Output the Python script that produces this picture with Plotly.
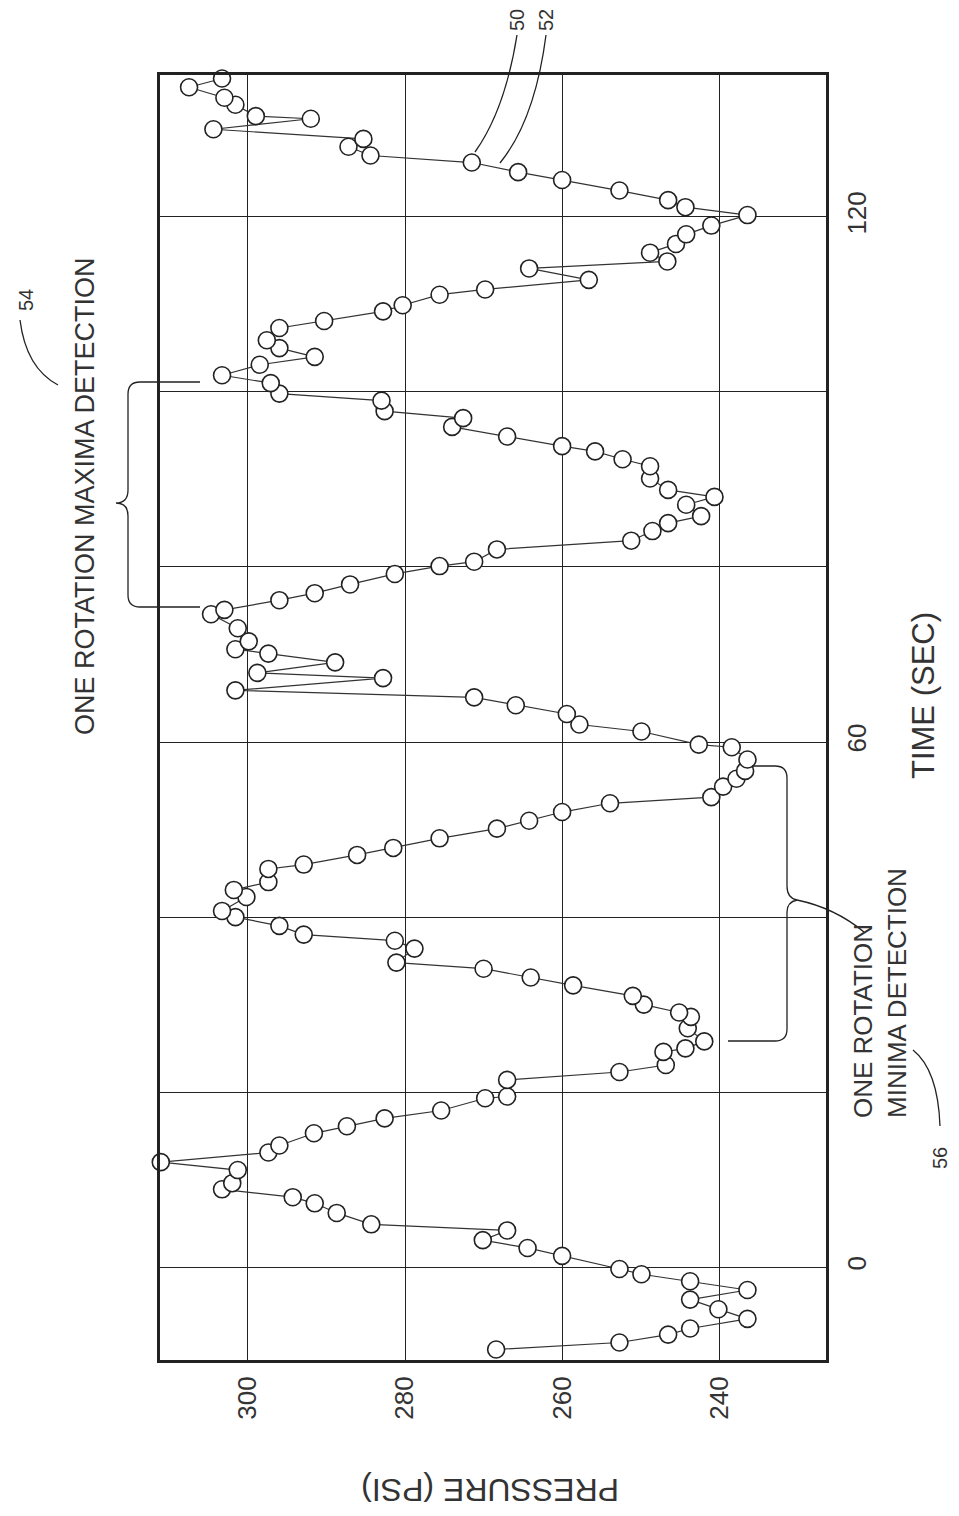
import plotly.graph_objects as go

# ---------------- data (time in sec, pressure in psi) ----------------
time_sec = [
    -9.4, -8.6, -7.7, -7.0, -5.9, -4.8, -3.7, -2.6, -1.6, -0.8, -0.2,
    1.3, 2.2, 3.1, 4.2, 4.9, 6.2, 7.3, 8.0, 8.9, 9.6, 11.1, 12.0, 13.1, 13.9,
    15.3, 16.1, 17.0, 17.9, 19.3, 19.5, 21.4, 22.3, 23.1, 24.6, 25.0, 25.8,
    27.3, 28.6, 29.1, 30.0, 31.0, 32.2, 33.1, 34.1, 34.8, 36.4, 37.3, 38.0,
    39.0, 40.0, 40.7, 42.3, 43.1, 44.0, 45.5, 46.0, 47.1, 47.9, 49.0, 50.1,
    51.0, 52.0, 53.0, 53.7, 54.9, 55.8, 56.7, 58.0, 59.4, 59.7, 61.2, 62.0,
    63.2, 64.2, 65.1, 65.9, 67.3, 67.9, 69.1, 70.1, 70.6, 71.5, 73.0, 74.6,
    75.1, 76.2, 77.0, 78.0, 79.2, 80.1, 80.6, 82.0, 83.0, 84.1, 85.0, 85.8,
    87.1, 88.0, 88.8, 90.1, 91.5, 92.3, 93.2, 93.8, 94.9, 96.0, 97.0, 97.8,
    99.0, 99.8, 101.0, 101.9, 103.1, 104.0, 105.0, 105.9, 107.3, 108.1,
    109.2, 109.9, 111.1, 111.7, 112.8, 114.1, 114.9, 115.9, 116.9, 118.0,
    119.0, 120.2, 121.1, 121.9, 123.0, 124.2, 125.1, 126.2, 127.0, 128.0,
    128.9, 130.0, 131.2, 131.5, 132.8, 133.6, 134.8, 135.8,
]
pressure_psi = [
    268.4, 252.7, 246.5, 243.7, 236.4, 240.1, 243.7, 236.4, 243.7, 249.9, 252.7,
    260.0, 264.4, 270.1, 267.0, 284.3, 288.7, 291.5, 294.3, 303.3, 302.0, 301.3,
    311.1, 297.4, 296.0, 291.6, 287.4, 282.6, 275.4, 269.8, 267.0, 267.0, 252.7,
    246.8, 247.1, 244.3, 241.9, 244.0, 243.6, 245.1, 249.6, 251.0, 258.6, 264.0,
    270.0, 281.1, 278.8, 281.3, 292.9, 296.0, 301.6, 303.3, 300.2, 301.8, 297.4,
    297.4, 292.9, 286.1, 281.5, 275.6, 268.3, 264.2, 260.0, 253.9, 241.0, 239.5,
    237.8, 236.7, 236.4, 238.4, 242.6, 249.9, 257.8, 259.4, 265.9, 271.2, 301.6,
    282.8, 298.8, 288.9, 297.4, 301.6, 299.9, 301.3, 304.7, 303.0, 296.0, 291.5,
    287.0, 281.3, 275.6, 271.2, 268.3, 251.2, 248.5, 246.5, 242.3, 244.2, 240.6,
    246.5, 248.8, 248.8, 252.3, 255.8, 260.0, 267.0, 274.0, 272.6, 282.6, 283.0,
    296.0, 297.1, 303.3, 298.5, 291.5, 296.0, 297.6, 296.0, 290.3, 282.8, 280.3,
    275.6, 269.8, 256.6, 264.2, 246.6, 248.8, 245.5, 244.2, 241.0, 236.4, 244.3,
    246.5, 252.7, 260.0, 265.6, 271.5, 284.4, 287.2, 285.3, 304.4, 292.0, 299.0,
    301.6, 303.0, 307.5, 303.3,
]

pressure_ticks = [240, 260, 280, 300]
time_ticks = [0, 20, 40, 60, 80, 100, 120]
time_tick_text = ["0", "", "", "60", "", "", "120"]

# ---------------- geometry helpers (pixel -> paper) ----------------
W, H = 959, 1516
L, T, PW, PH = 160, 75, 666, 1285
R = W - L - PW
B = H - T - PH


def px(x, y):
    return (x - L) / PW, (T + PH - y) / PH


def path_px(cmds):
    out = []
    for c in cmds:
        if isinstance(c, str):
            out.append(c)
        else:
            a, b = px(*c)
            out.append(f"{a:.5f},{b:.5f}")
    return " ".join(out)


INK = "#222222"
TXT = "#333333"
FONT = "Liberation Sans, Arial, sans-serif"

fig = go.Figure()
fig.add_trace(go.Scatter(
    x=pressure_psi, y=time_sec, mode="lines+markers",
    line=dict(color="#333333", width=1.2),
    marker=dict(symbol="circle", size=17, color="white",
                line=dict(color=INK, width=1.6)),
    showlegend=False, cliponaxis=False,
))

fig.update_layout(
    width=W, height=H,
    margin=dict(l=L, r=R, t=T, b=B, pad=0),
    paper_bgcolor="white", plot_bgcolor="white",
    font=dict(family=FONT, color=INK),
    showlegend=False,
)
fig.update_xaxes(
    range=[311.2, 226.4], tickvals=pressure_ticks,
    ticktext=[str(v) for v in pressure_ticks],
    tickangle=-90, tickfont=dict(size=26, color=TXT),
    ticks="", ticklabelstandoff=3,
    showgrid=True, gridcolor=INK, gridwidth=1,
    showline=True, linecolor=INK, linewidth=3, mirror=True, zeroline=False,
)
fig.update_yaxes(
    range=[-10.6, 136.2], side="right", tickvals=time_ticks, ticktext=time_tick_text,
    tickangle=-90, tickfont=dict(size=26, color=TXT),
    ticks="", ticklabelstandoff=6,
    showgrid=True, gridcolor=INK, gridwidth=1,
    showline=True, linecolor=INK, linewidth=3, mirror=True, zeroline=False,
)

shapes = []


def add_path(cmds, width=1.3):
    shapes.append(dict(type="path", xref="paper", yref="paper",
                       path=path_px(cmds), line=dict(color=INK, width=width)))


# maxima brace (left, outside plot)
add_path(["M", (200, 382), "L", (140, 382), "Q", (128, 382), (128, 394),
          "L", (128, 490), "Q", (128, 503), (116, 503),
          "Q", (128, 503), (128, 516),
          "L", (128, 595), "Q", (128, 607), (140, 607), "L", (200, 607)])
# minima brace (right, inside plot)
add_path(["M", (752, 766), "L", (775, 766), "Q", (787, 766), (787, 778),
          "L", (787, 886), "Q", (787, 898), (797, 900),
          "Q", (787, 902), (787, 912),
          "L", (787, 1029), "Q", (787, 1041), (775, 1041), "L", (728, 1041)])
# leader from minima brace to text
add_path(["M", (797, 900), "Q", (835, 908), (864, 932)])
# "54" leader
add_path(["M", (20, 320), "Q", (26, 368), (58, 385)])
# "56" leader
add_path(["M", (913, 1050), "Q", (938, 1070), (940, 1126)])
# "50" and "52" leaders
add_path(["M", (517, 35), "Q", (505, 110), (475, 152)])
add_path(["M", (546, 35), "Q", (535, 120), (500, 163)])
fig.update_layout(shapes=shapes)

anns = []


def add_text(text, x, y, size, angle=-90, align="center"):
    a, b = px(x, y)
    anns.append(dict(text=text, x=a, y=b, xref="paper", yref="paper",
                     showarrow=False, textangle=angle, align=align,
                     xanchor="center", yanchor="middle",
                     font=dict(family=FONT, size=size, color=TXT)))


add_text("PRESSURE (PSI)", 490, 1490, 32, angle=180)
add_text("TIME (SEC)", 924, 695, 31)
add_text("ONE ROTATION MAXIMA DETECTION", 85, 496, 27)
add_text("54", 26, 300, 20)
add_text("ONE ROTATION<br>MINIMA DETECTION", 880, 993, 26, align="left")
add_text("56", 940, 1158, 20)
add_text("50", 517, 20, 20)
add_text("52", 546, 20, 20)
fig.update_layout(annotations=anns)

fig.write_html("out.html")
